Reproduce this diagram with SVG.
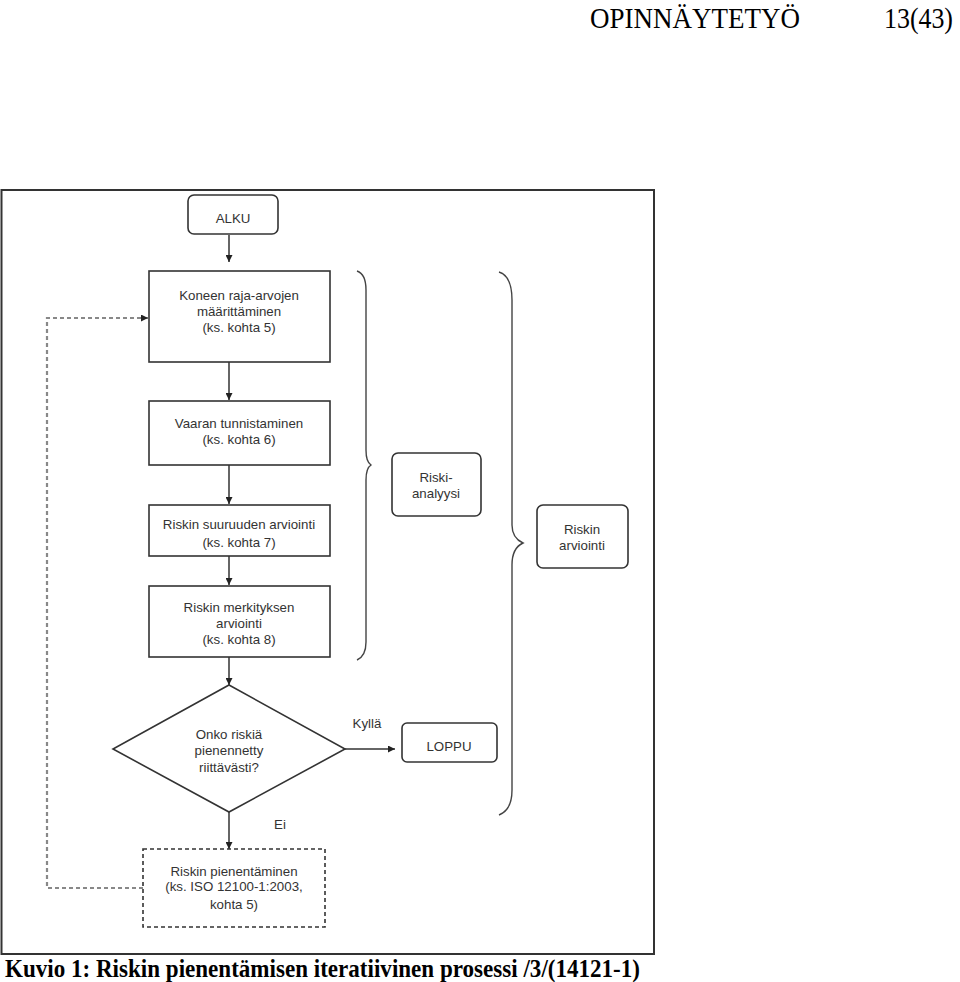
<svg xmlns="http://www.w3.org/2000/svg" width="960" height="982" viewBox="0 0 960 982">
<style>
.bx{fill:#fff;stroke:#333;stroke-width:1.6}
.t{font-family:"Liberation Sans",Arial,sans-serif;font-size:13.3px;fill:#333;text-anchor:middle}
.ln{stroke:#333;stroke-width:1.5;fill:none}
.br{stroke:#444;stroke-width:1.4;fill:none}
.hd{font-family:"Liberation Serif","Times New Roman",serif;fill:#000}
</style>
<defs>
<marker id="ah" viewBox="0 0 10 10" refX="10" refY="5" markerWidth="7" markerHeight="7" markerUnits="userSpaceOnUse" orient="auto"><path d="M0,0 L10,5 L0,10 z" fill="#222"/></marker>
</defs>
<rect width="960" height="982" fill="#fff"/>
<text class="hd" x="590" y="28" font-size="29" textLength="210" lengthAdjust="spacingAndGlyphs">OPINNÄYTETYÖ</text>
<text class="hd" x="884" y="28" font-size="29" textLength="69" lengthAdjust="spacingAndGlyphs">13(43)</text>
<rect x="1.5" y="190" width="652.5" height="764" fill="none" stroke="#333" stroke-width="2"/>
<text class="hd" x="5" y="977" font-size="25" font-weight="bold" textLength="635" lengthAdjust="spacingAndGlyphs">Kuvio 1: Riskin pienentämisen iteratiivinen prosessi /3/(14121-1)</text>

<g id="connectors">
<line class="ln" x1="229" y1="235" x2="229" y2="262" marker-end="url(#ah)"/>
<line class="ln" x1="229" y1="362" x2="229" y2="400" marker-end="url(#ah)"/>
<line class="ln" x1="229" y1="465" x2="229" y2="504" marker-end="url(#ah)"/>
<line class="ln" x1="229" y1="556" x2="229" y2="585" marker-end="url(#ah)"/>
<line class="ln" x1="229" y1="657" x2="229" y2="685" marker-end="url(#ah)"/>
<line class="ln" x1="345" y1="749" x2="395" y2="749" marker-end="url(#ah)"/>
<line class="ln" x1="229" y1="812" x2="229" y2="849" marker-end="url(#ah)"/>
<polyline points="143,888 47,888 47,318 148,318" fill="none" stroke="#888" stroke-width="2.2" stroke-dasharray="4,3" marker-end="url(#ah)"/>
<text class="t" x="367" y="728">Kyllä</text>
<text class="t" x="280" y="829">Ei</text>
</g>

<g id="alku"><rect class="bx" x="188" y="195" width="90" height="39" rx="6"/><text class="t" x="233" y="223">ALKU</text></g>
<g id="n1"><rect class="bx" x="149" y="271" width="181" height="91"/>
<text class="t" x="239" y="300">Koneen raja-arvojen</text><text class="t" x="239" y="316">määrittäminen</text><text class="t" x="239" y="332">(ks. kohta 5)</text></g>
<g id="n2"><rect class="bx" x="149" y="401" width="181" height="64"/>
<text class="t" x="239" y="428">Vaaran tunnistaminen</text><text class="t" x="239" y="444">(ks. kohta 6)</text></g>
<g id="n3"><rect class="bx" x="149" y="505" width="181" height="51"/>
<text class="t" x="239" y="529">Riskin suuruuden arviointi</text><text class="t" x="239" y="547">(ks. kohta 7)</text></g>
<g id="n4"><rect class="bx" x="149" y="586" width="181" height="71"/>
<text class="t" x="239" y="612">Riskin merkityksen</text><text class="t" x="239" y="628">arviointi</text><text class="t" x="239" y="644">(ks. kohta 8)</text></g>
<g id="decision"><polygon class="bx" points="229,685 345,749 229,812 113,749"/>
<text class="t" x="229" y="739">Onko riskiä</text><text class="t" x="229" y="755">pienennetty</text><text class="t" x="229" y="772">riittävästi?</text></g>
<g id="loppu"><rect class="bx" x="402" y="723" width="95" height="39" rx="5"/><text class="t" x="449" y="751">LOPPU</text></g>
<g id="reduce"><rect x="143" y="849" width="182" height="78" fill="#fff" stroke="#333" stroke-width="1.6" stroke-dasharray="4,3"/>
<text class="t" x="234" y="876">Riskin pienentäminen</text><text class="t" x="234" y="891">(ks. ISO 12100-1:2003,</text><text class="t" x="234" y="909">kohta 5)</text></g>

<g id="brace1"><path class="br" d="M357,271 Q366,274 366,290 L366,450 Q366,462 371,465 Q366,468 366,480 L366,642 Q366,656 357,660"/></g>
<g id="riskianalyysi"><rect class="bx" x="392" y="453" width="89" height="63" rx="6"/><text class="t" x="436" y="482">Riski-</text><text class="t" x="436" y="498">analyysi</text></g>
<g id="brace2"><path class="br" d="M499,272 Q512,276 512,300 L512,525 Q512,538 523,543 Q512,548 512,565 L512,790 Q512,810 499,815"/></g>
<g id="riskinarviointi"><rect class="bx" x="537" y="505" width="91" height="63" rx="6"/><text class="t" x="582" y="534">Riskin</text><text class="t" x="582" y="550">arviointi</text></g>
</svg>
